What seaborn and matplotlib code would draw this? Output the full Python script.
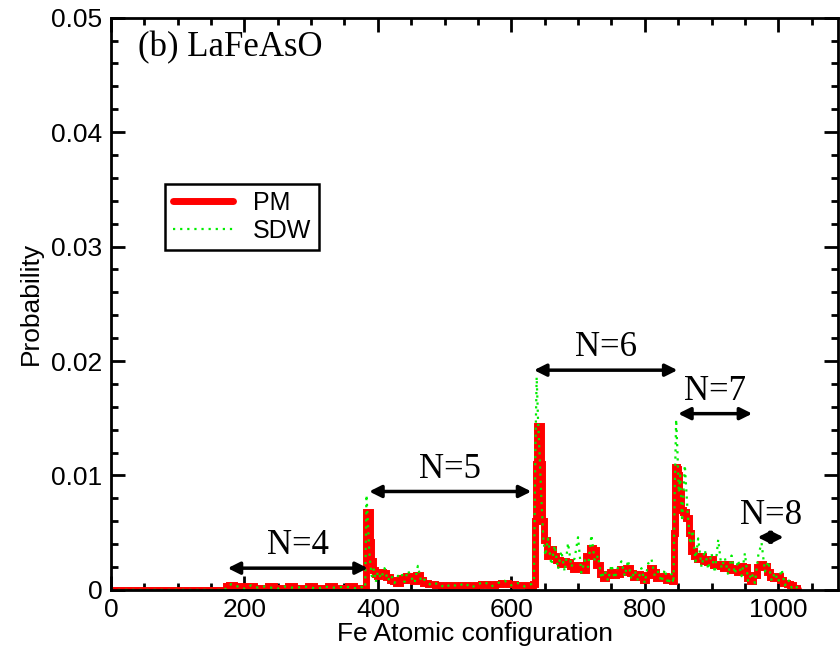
import numpy as np
import pandas as pd
import matplotlib
matplotlib.use("Agg")
import matplotlib.pyplot as plt
from matplotlib.ticker import MultipleLocator
import seaborn as sns

# ---------------------------------------------------------------
# data (Fe atomic configuration index vs probability)
# ---------------------------------------------------------------
config = [0, 170, 175, 180, 190, 200, 210, 220, 230, 240,
          250, 260, 270, 280, 290, 300, 310, 320, 330, 340,
          350, 360, 370, 378, 381,
          383, 385, 387, 389, 391, 394, 397, 400, 405, 410,
          415, 420, 425, 430, 435, 440, 445, 450, 455, 460,
          465, 470, 480, 490, 500, 510, 520, 530, 540, 550,
          560, 570, 580, 590, 600, 610, 620, 630,
          634, 636, 638, 640, 643, 645, 648, 651, 655, 660,
          665, 670, 675, 680, 685, 690, 695, 700, 705, 710,
          715, 720, 725, 730, 735, 740, 745, 750, 755, 760,
          765, 770, 775, 780, 785, 790, 795, 800, 805, 810,
          815, 820, 825, 830, 835, 840, 843,
          845, 847, 849, 851, 853, 856, 860, 864, 868, 872,
          876, 880, 885, 890, 895, 900, 905, 910, 915, 920,
          925, 930, 935, 940, 945, 950, 955, 960, 965, 970,
          975, 980, 985, 990, 995, 1000, 1005, 1010, 1015, 1020,
          1025, 1030]

pm = [0, 0, 0.0003, 0.0004, 0.0003, 0.0002, 0.0003, 0.0002, 0.0002, 0.0003,
      0.0002, 0.0002, 0.0003, 0.0002, 0.0002, 0.0003, 0.0002, 0.0002, 0.0003, 0.0002,
      0.0002, 0.0003, 0.0002, 0.0002, 0.0001,
      0.0068, 0.0068, 0.0068, 0.0042, 0.0025, 0.0017, 0.0014, 0.0012, 0.0016, 0.0015,
      0.0011, 0.0009, 0.0008, 0.0006, 0.0010, 0.0009, 0.0012, 0.0010, 0.0008, 0.0013,
      0.0009, 0.0006, 0.0005, 0.0004, 0.0003, 0.0004, 0.0003, 0.0004, 0.0003, 0.0004,
      0.0005, 0.0004, 0.0005, 0.0006, 0.0005, 0.0004, 0.0004, 0.0003,
      0.0005, 0.0060, 0.0110, 0.0143, 0.0143, 0.0110, 0.0060, 0.0044, 0.0030, 0.0036,
      0.0030, 0.0026, 0.0023, 0.0025, 0.0024, 0.0021, 0.0018, 0.0022, 0.0020, 0.0017,
      0.0030, 0.0037, 0.0035, 0.0022, 0.0014, 0.0010, 0.0013, 0.0016, 0.0013, 0.0014,
      0.0018, 0.0016, 0.0019, 0.0015, 0.0011, 0.0014, 0.0012, 0.0009, 0.0013, 0.0019,
      0.0016, 0.0010, 0.0011, 0.0012, 0.0009, 0.0010, 0.0008,
      0.0050, 0.0107, 0.0106, 0.0100, 0.0085, 0.0070, 0.0068, 0.0063, 0.0050, 0.0034,
      0.0030, 0.0027, 0.0030, 0.0025, 0.0024, 0.0027, 0.0022, 0.0023, 0.0021, 0.0019,
      0.0023, 0.0017, 0.0019, 0.0016, 0.0021, 0.0020, 0.0010, 0.0008, 0.0013, 0.0020,
      0.0023, 0.0021, 0.0016, 0.0011, 0.0010, 0.0012, 0.0009, 0.0006, 0.0005, 0.0004,
      0.0002, 0.0001]

sdw = [0, 0, 0.0002, 0.0005, 0.0003, 0.0001, 0.0004, 0.0002, 0.0003, 0.0002,
       0.0001, 0.0003, 0.0002, 0.0002, 0.0003, 0.0002, 0.0001, 0.0003, 0.0002, 0.0002,
       0.0003, 0.0002, 0.0001, 0.0003, 0.0002,
       0.0083, 0.0060, 0.0035, 0.0022, 0.0012, 0.0018, 0.0007, 0.0016, 0.0010, 0.0019,
       0.0008, 0.0013, 0.0006, 0.0012, 0.0015, 0.0007, 0.0017, 0.0011, 0.0006, 0.0021,
       0.0007, 0.0009, 0.0004, 0.0006, 0.0002, 0.0005, 0.0003, 0.0006, 0.0002, 0.0005,
       0.0007, 0.0003, 0.0006, 0.0008, 0.0004, 0.0006, 0.0003, 0.0005,
       0.0010, 0.0120, 0.0186, 0.0150, 0.0110, 0.0080, 0.0045, 0.0030, 0.0045, 0.0022,
       0.0039, 0.0018, 0.0034, 0.0016, 0.0041, 0.0020, 0.0028, 0.0046, 0.0015, 0.0026,
       0.0020, 0.0048, 0.0025, 0.0030, 0.0010, 0.0017, 0.0008, 0.0022, 0.0010, 0.0020,
       0.0025, 0.0012, 0.0026, 0.0009, 0.0017, 0.0008, 0.0019, 0.0006, 0.0023, 0.0027,
       0.0012, 0.0016, 0.0007, 0.0018, 0.0005, 0.0014, 0.0006,
       0.0090, 0.0149, 0.0120, 0.0085, 0.0100, 0.0060, 0.0109, 0.0070, 0.0040, 0.0052,
       0.0025, 0.0045, 0.0020, 0.0035, 0.0018, 0.0032, 0.0015, 0.0044, 0.0019, 0.0028,
       0.0013, 0.0030, 0.0014, 0.0026, 0.0012, 0.0032, 0.0007, 0.0015, 0.0006, 0.0030,
       0.0041, 0.0016, 0.0025, 0.0008, 0.0015, 0.0007, 0.0018, 0.0004, 0.0009, 0.0002,
       0.0004, 0.0001]

# N-shell ranges shown with double arrows
shell_labels = ["N=4", "N=5", "N=6", "N=7", "N=8"]
shell_start = [175, 387, 634, 850, 969]
shell_end = [385, 630, 849, 961, 1008]
shell_y = [0.0019, 0.0086, 0.0192, 0.0154, 0.0046]


# ---------------------------------------------------------------
# plot
# ---------------------------------------------------------------
sns.set_style("ticks")
plt.rcParams["font.family"] = ["Liberation Sans", "DejaVu Sans"]
plt.rcParams["text.color"] = "black"
plt.rcParams["axes.labelcolor"] = "black"

df = pd.DataFrame({"config": config, "PM": pm, "SDW": sdw})

fig = plt.figure(figsize=(8.4, 6.54), dpi=100)
ax = fig.add_axes([0.132, 0.098, 0.866, 0.875])

sns.lineplot(ax=ax, data=df, x="config", y="PM", color="#ff0000",
             lw=5, sort=False, estimator=None, label="PM",
             drawstyle="steps-mid", solid_joinstyle="miter")
sns.lineplot(ax=ax, data=df, x="config", y="SDW", color="#00ee00",
             lw=1.6, ls=(0, (1, 2.2)), sort=False, estimator=None, label="SDW")

for lab, x1, x2, y in zip(shell_labels, shell_start, shell_end, shell_y):
    ax.annotate("", xy=(x2, y), xytext=(x1, y),
                arrowprops=dict(arrowstyle="<|-|>", color="black", lw=2.5,
                                mutation_scale=18, shrinkA=0, shrinkB=0))
    ax.text((x1 + x2) / 2, y + 0.0005, lab, ha="center", va="bottom",
            fontsize=25, family="Liberation Serif")

ax.text(40, 0.0474, "(b) LaFeAsO", ha="left", va="center",
        fontsize=25, family="Liberation Serif")

ax.set_xlim(0, 1090)
ax.set_ylim(0, 0.05)
ax.xaxis.set_major_locator(MultipleLocator(200))
ax.xaxis.set_minor_locator(MultipleLocator(50))
ax.yaxis.set_minor_locator(MultipleLocator(0.002))
ax.set_yticks([0, 0.01, 0.02, 0.03, 0.04, 0.05])
ax.set_yticklabels(["0", "0.01", "0.02", "0.03", "0.04", "0.05"])

ax.tick_params(which="both", direction="in", top=True, right=True,
               width=2, labelsize=19, colors="black")
ax.tick_params(which="major", length=10, pad=6)
ax.tick_params(which="minor", length=5)
for sp in ax.spines.values():
    sp.set_linewidth(2)
    sp.set_color("black")

ax.set_xlabel("Fe Atomic configuration", fontsize=19, labelpad=0)
ax.set_ylabel("Probability", fontsize=19, labelpad=6)

leg = ax.legend(loc="upper left", bbox_to_anchor=(0.075, 0.71), fontsize=18,
                frameon=True, fancybox=False, framealpha=1, edgecolor="black",
                handlelength=2.4, handletextpad=0.8, borderpad=0.3,
                labelspacing=0.15, borderaxespad=0)
leg.get_frame().set_linewidth(1.8)

fig.savefig("out.png", dpi=100)
